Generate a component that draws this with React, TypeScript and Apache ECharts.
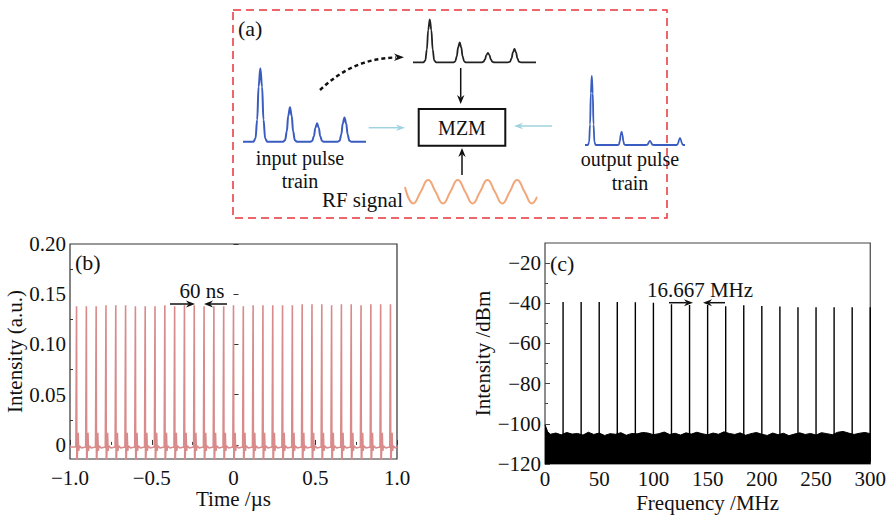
import React, { useEffect, useRef } from "react";
import * as echarts from "echarts";

const FONT = '"Liberation Serif", "Times New Roman", serif';

// ---------- Panel (a): schematic pulse trains ----------
const INPUT_PULSE_POS = [0.62, 1.68, 2.65, 3.63];
const INPUT_PULSE_HEIGHTS = [1.0, 0.47, 0.25, 0.33];
const MOD_PULSE_POS = [0.6, 1.67, 2.68, 3.63];
const MOD_PULSE_HEIGHTS = [1.0, 0.46, 0.22, 0.31];
const OUTPUT_PULSE_POS = [0.23, 1.24, 2.2, 3.22];
const OUTPUT_PULSE_HEIGHTS = [1.0, 0.19, 0.06, 0.1];
const PULSE_PROFILE_U = [-1, -0.7, -0.45, -0.25, 0, 0.25, 0.45, 0.7, 1];
const PULSE_PROFILE_V = [0, 0.04, 0.3, 0.75, 1, 0.75, 0.3, 0.04, 0];
const RF_PHASE = [0, 1.12, 2.12, 3.12, 4.12, 5.12, 6.12, 7.12, 8.12, 9.12, 10.12, 11.12, 12.12, 13.12, 14.12, 15.12, 16.12, 17.12, 17.8];
const RF_SIGNAL = [0.4, -1, 0, 1, 0, -1, 0, 1, 0, -1, 0, 1, 0, -1, 0, 1, 0, -1, -0.45];

// ---------- Panel (b): time-domain pulse train ----------
const PULSE_TIMES_US = [-0.96, -0.9, -0.84, -0.78, -0.72, -0.66, -0.6, -0.54, -0.48, -0.42, -0.36, -0.3, -0.24, -0.18, -0.12, -0.06, 0.0, 0.06, 0.12, 0.18, 0.24, 0.3, 0.36, 0.42, 0.48, 0.54, 0.6, 0.66, 0.72, 0.78, 0.84, 0.9, 0.96];
const PULSE_PEAKS = [0.138, 0.138, 0.138, 0.139, 0.139, 0.139, 0.138, 0.138, 0.138, 0.139, 0.138, 0.139, 0.139, 0.138, 0.138, 0.138, 0.139, 0.138, 0.139, 0.139, 0.139, 0.139, 0.139, 0.14, 0.14, 0.14, 0.139, 0.14, 0.14, 0.139, 0.14, 0.14, 0.14];
const TRACE_BASELINE = -0.002;
const RING_DT_BEFORE = [-0.004];
const RING_V_BEFORE = [-0.002];
const RING_DT_AFTER = [0.002, 0.006, 0.01, 0.013, 0.017, 0.03];
const RING_V_AFTER = [-0.03, -0.004, 0.012, -0.006, -0.001, -0.003];
const TIME_TICKS_MINOR = [0.025, 0.075, 0.125, 0.175];
const INTENSITY_TICKS = [0, 0.05, 0.1, 0.15, 0.2];

// ---------- Panel (c): RF spectrum ----------
const SPIKE_FREQS = [16.667, 33.333, 50, 66.667, 83.333, 100, 116.667, 133.333, 150, 166.667, 183.333, 200, 216.667, 233.333, 250, 266.667, 283.333, 300];
const SPIKE_PEAKS = [-39.4, -39.4, -39.4, -39.4, -39.5, -39.7, -40.5, -40.8, -40.9, -41.5, -41.0, -41.3, -41.6, -42.0, -42.0, -42.0, -42.0, -42.0];
const FLOOR_FREQS_START = [0, 1, 2.5];
const FLOOR_VALUES_START = [-100.5, -101.8, -104.0];
const FLOOR_STEP_MHZ = 5;
const FLOOR_VALUES = [-105.2, -104.6, -105.5, -104.3, -105.1, -104.8, -105.6, -104.2, -105.3, -104.6, -105.8, -104.9, -105.2, -104.4, -105.7, -104.8, -105.0, -104.3, -104.6, -105.4, -104.9, -104.1, -105.3, -104.7, -105.6, -104.5, -105.1, -104.2, -104.9, -105.5, -104.6, -105.2, -104.0, -104.8, -105.3, -104.5, -105.7, -104.9, -104.3, -105.2, -105.8, -104.6, -105.4, -104.7, -105.9, -105.1, -104.5, -105.3, -104.8, -105.6, -104.4, -104.9, -105.4, -104.2, -103.8, -104.6, -105.3, -104.7, -104.3, -104.9];
const DBM_TICKS = [-120, -100, -80, -60, -40, -20];
const DBM_TICKS_MINOR = [-110, -90, -70, -50, -30];

function pulseTrain(pos: number[], heights: number[], halfW: number, xMax: number) {
  const pts: number[][] = [[0, 0]];
  pos.forEach((p, i) => {
    PULSE_PROFILE_U.forEach((u, j) => pts.push([p + u * halfW, heights[i] * PULSE_PROFILE_V[j]]));
  });
  pts.push([xMax, 0]);
  return pts;
}

function buildTrace() {
  const pts: number[][] = [[-1, TRACE_BASELINE]];
  PULSE_TIMES_US.forEach((t, i) => {
    RING_DT_BEFORE.forEach((dt, j) => pts.push([t + dt, RING_V_BEFORE[j]]));
    pts.push([t, PULSE_PEAKS[i]]);
    RING_DT_AFTER.forEach((dt, j) => pts.push([t + dt, RING_V_AFTER[j]]));
  });
  pts.push([1, TRACE_BASELINE]);
  return pts;
}

function buildFloor() {
  const pts: number[][] = FLOOR_FREQS_START.map((f, i) => [f, FLOOR_VALUES_START[i]]);
  FLOOR_VALUES.forEach((v, i) => pts.push([(i + 1) * FLOOR_STEP_MHZ, v]));
  return pts;
}

function buildSpikes() {
  const pts: any[] = [];
  SPIKE_FREQS.forEach((f, i) => {
    pts.push([f, -119]);
    pts.push([f, SPIKE_PEAKS[i]]);
    pts.push([f, "-"]);
  });
  return pts;
}

const minus = (s: string) => s.replace("-", "\u2212");

function arrow(x1: number, y1: number, x2: number, y2: number, color: string, width: number, headLen: number, headW: number) {
  const dx = x2 - x1, dy = y2 - y1;
  const len = Math.sqrt(dx * dx + dy * dy);
  const ux = dx / len, uy = dy / len;
  const px = -uy, py = ux;
  const bx = x2 - ux * headLen, by = y2 - uy * headLen;
  const nx = x2 - ux * headLen * 0.7, ny = y2 - uy * headLen * 0.7;
  return [
    { type: "line", shape: { x1, y1, x2: nx, y2: ny }, style: { stroke: color, lineWidth: width } },
    {
      type: "polygon",
      shape: { points: [[x2, y2], [bx + px * headW, by + py * headW], [nx, ny], [bx - px * headW, by - py * headW]] },
      style: { fill: color },
    },
  ];
}

function txt(text: string, x: number, y: number, align: string, size = 21) {
  return {
    type: "text",
    x,
    y,
    style: { text, fill: "#111", fontSize: size, fontFamily: FONT, align, verticalAlign: "middle" },
  };
}

export default function App() {
  const ref = useRef<HTMLDivElement>(null);
  useEffect(() => {
    if (!ref.current) return;
    const chart = echarts.init(ref.current, null, { renderer: "svg" });
    const axisLabelBase = { fontSize: 21, color: "#111", fontFamily: FONT };
    const nameStyle = { fontSize: 21, color: "#111", fontFamily: FONT };
    const hiddenX = (gi: number, max: number) => ({ type: "value", gridIndex: gi, min: 0, max, show: false });
    const hiddenY = (gi: number, min: number) => ({ type: "value", gridIndex: gi, min, max: 1, show: false });

    const option: any = {
      animation: false,
      backgroundColor: "#fff",
      textStyle: { fontFamily: FONT },
      grid: [
        { left: 70, top: 244, width: 327, height: 215, show: true, borderColor: "#333", borderWidth: 1.2, backgroundColor: "transparent" },
        { left: 545, top: 243, width: 327, height: 221, show: true, borderColor: "#444", borderWidth: 1.2, backgroundColor: "transparent" },
        { left: 243, top: 68.3, width: 123, height: 73.4 },
        { left: 413, top: 19.3, width: 123, height: 43 },
        { left: 585, top: 76, width: 100, height: 69 },
        { left: 405, top: 180, width: 132, height: 23.4 },
      ],
      xAxis: [
        {
          type: "value", gridIndex: 0, min: -1, max: 1, interval: 0.5,
          axisLine: { show: false },
          axisTick: { inside: true, length: 5, lineStyle: { color: "#333" } },
          minorTick: { show: true, splitNumber: 2, length: 3, lineStyle: { color: "#333" } },
          splitLine: { show: false },
          axisLabel: { ...axisLabelBase, margin: 8, formatter: (v: number) => (v === 0 ? "0" : minus(v.toFixed(1))) },
          name: "Time /\u00b5s", nameLocation: "middle", nameGap: 28, nameTextStyle: nameStyle,
        },
        {
          type: "value", gridIndex: 1, min: 0, max: 300, interval: 50,
          axisLine: { show: false },
          axisTick: { inside: true, length: 5, lineStyle: { color: "#444" } },
          minorTick: { show: true, splitNumber: 2, length: 3, lineStyle: { color: "#444" } },
          splitLine: { show: false },
          axisLabel: { ...axisLabelBase, margin: 4 },
          name: "Frequency /MHz", nameLocation: "middle", nameGap: 28, nameTextStyle: nameStyle,
        },
        hiddenX(2, 4.4),
        hiddenX(3, 4.4),
        hiddenX(4, 3.39),
        hiddenX(5, 17.8),
      ],
      yAxis: [
        {
          type: "value", gridIndex: 0, min: -0.014, max: 0.2,
          axisLine: { show: false },
          axisTick: { inside: true, length: 5, customValues: INTENSITY_TICKS, lineStyle: { color: "#333" } },
          splitLine: { show: false },
          axisLabel: { ...axisLabelBase, margin: 4, customValues: INTENSITY_TICKS, formatter: (v: number) => (v === 0 ? "0" : v.toFixed(2)) },
          name: "Intensity (a.u.)", nameLocation: "middle", nameGap: 43, nameTextStyle: nameStyle,
        },
        {
          type: "value", gridIndex: 0, min: -0.014, max: 0.2, position: "left",
          axisLine: { show: false },
          axisTick: { inside: true, length: 3, customValues: TIME_TICKS_MINOR, lineStyle: { color: "#333" } },
          axisLabel: { show: false },
          splitLine: { show: false },
        },
        {
          type: "value", gridIndex: 1, min: -120, max: -10,
          axisLine: { show: false },
          axisTick: { inside: true, length: 5, customValues: DBM_TICKS, lineStyle: { color: "#444" } },
          splitLine: { show: false },
          axisLabel: { ...axisLabelBase, margin: 4, customValues: DBM_TICKS, formatter: (v: number) => minus(String(v)) },
          name: "Intensity /dBm", nameLocation: "middle", nameGap: 50, nameTextStyle: nameStyle,
        },
        {
          type: "value", gridIndex: 1, min: -120, max: -10, position: "left",
          axisLine: { show: false },
          axisTick: { inside: true, length: 3, customValues: DBM_TICKS_MINOR, lineStyle: { color: "#444" } },
          axisLabel: { show: false },
          splitLine: { show: false },
        },
        hiddenY(2, 0),
        hiddenY(3, 0),
        hiddenY(4, 0),
        hiddenY(5, -1),
      ],
      series: [
        {
          type: "line", xAxisIndex: 0, yAxisIndex: 0, data: buildTrace(), showSymbol: false,
          lineStyle: { color: "#d98a8a", width: 1.6 }, z: 3,
        },
        {
          type: "line", xAxisIndex: 1, yAxisIndex: 2, data: buildFloor(), showSymbol: false,
          lineStyle: { color: "#000", width: 1 }, areaStyle: { color: "#000", opacity: 1, origin: "start" },
        },
        {
          type: "line", xAxisIndex: 1, yAxisIndex: 2, data: buildSpikes(), showSymbol: false,
          lineStyle: { color: "#000", width: 1.4 },
        },
        {
          type: "line", xAxisIndex: 2, yAxisIndex: 4, data: pulseTrain(INPUT_PULSE_POS, INPUT_PULSE_HEIGHTS, 0.25, 4.4),
          showSymbol: false, smooth: 0.4, smoothMonotone: "x", clip: false, lineStyle: { color: "#3a5cc0", width: 2 },
        },
        {
          type: "line", xAxisIndex: 3, yAxisIndex: 5, data: pulseTrain(MOD_PULSE_POS, MOD_PULSE_HEIGHTS, 0.23, 4.4),
          showSymbol: false, smooth: 0.4, smoothMonotone: "x", clip: false, lineStyle: { color: "#222", width: 1.8 },
        },
        {
          type: "line", xAxisIndex: 4, yAxisIndex: 6, data: pulseTrain(OUTPUT_PULSE_POS, OUTPUT_PULSE_HEIGHTS, 0.13, 3.39),
          showSymbol: false, smooth: 0.4, smoothMonotone: "x", clip: false, lineStyle: { color: "#3a5cc0", width: 1.8 },
        },
        {
          type: "line", xAxisIndex: 5, yAxisIndex: 7, data: RF_PHASE.map((p, i) => [p, RF_SIGNAL[i]]),
          showSymbol: false, smooth: 0.5, clip: false, lineStyle: { color: "#f2a679", width: 2 },
        },
      ],
      graphic: [
        { type: "rect", shape: { x: 233, y: 10, width: 434, height: 208 }, style: { fill: "none", stroke: "#e8363a", lineWidth: 1.5, lineDash: [8, 5] } },
        txt("(a)", 238, 28, "left", 22),
        txt("input pulse", 300, 158, "center", 20),
        txt("train", 300, 181, "center", 20),
        txt("RF signal", 403, 200, "right", 21),
        txt("output pulse", 630, 159, "center", 20),
        txt("train", 630, 183, "center", 20),
        {
          type: "bezierCurve",
          shape: { x1: 320, y1: 90, cpx1: 343, cpy1: 68, cpx2: 368, cpy2: 58, x2: 396, y2: 57.5 },
          style: { stroke: "#111", lineWidth: 2.5, lineDash: [4, 3], fill: "none" },
        },
        { type: "polygon", shape: { points: [[404, 57.3], [394, 53.5], [397, 57.3], [394, 61]] }, style: { fill: "#111" } },
        ...arrow(460.7, 68, 460.7, 104, "#111", 1.5, 9, 3.7),
        { type: "rect", shape: { x: 418.7, y: 109, width: 86.6, height: 36.7 }, style: { fill: "#fff", stroke: "#111", lineWidth: 2 } },
        txt("MZM", 462, 127.5, "center", 20),
        ...arrow(462, 175, 462, 148, "#111", 1.5, 9, 3.7),
        ...arrow(368.7, 127.7, 405, 127.7, "#9fd3df", 1.5, 9, 3.3),
        ...arrow(552, 126, 514, 126, "#9fd3df", 1.5, 9, 3.3),
        txt("(b)", 75, 262, "left", 22),
        txt("60 ns", 202, 291, "center"),
        ...arrow(170, 304, 195, 304, "#111", 1.5, 9, 3.5),
        ...arrow(227, 304, 204, 304, "#111", 1.5, 9, 3.5),
        txt("(c)", 550, 263, "left", 22),
        txt("16.667 MHz", 700, 290, "center"),
        ...arrow(669, 302.7, 693, 302.7, "#111", 1.5, 9, 3.5),
        ...arrow(725, 302.7, 703, 302.7, "#111", 1.5, 9, 3.5),
      ],
    };
    chart.setOption(option);
    return () => chart.dispose();
  }, []);
  return (
    <div
      ref={ref}
      style={{ position: "fixed", left: 0, top: 0, width: 889, height: 516, background: "#fff" }}
    />
  );
}
